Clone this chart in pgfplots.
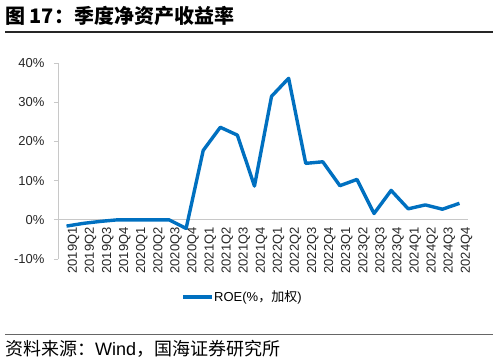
\documentclass[border=0pt]{standalone}
\usepackage{pgfplots}
\pgfplotsset{compat=1.18}
\usepackage{fontspec}
\setmainfont{Liberation Sans}
\newfontfamily\cjk{Noto Sans CJK SC}
\definecolor{roe}{RGB}{0,112,192}
\definecolor{axgray}{RGB}{200,200,200}
\begin{document}
\begin{tikzpicture}[x=1pt,y=1pt]
\path[use as bounding box] (0,0) rectangle (498,-362);
\node[anchor=west,inner sep=0] at (5,-16) {\fontsize{20}{22}\selectfont\cjk\bfseries 图 17：季度净资产收益率};
\draw[line width=1.3pt,black!85] (5,-32) -- (493,-32);
\draw[line width=1pt,black!60] (5,-334) -- (493,-334);
\node[anchor=west,inner sep=0] at (5,-349) {\fontsize{18}{20}\selectfont\cjk 资料来源：{\fontspec{Liberation Sans}Wind}，国海证券研究所};
\begin{axis}[
  at={(58pt,-259pt)}, anchor=south west,
  scale only axis, width=410pt, height=196pt,
  xmin=-0.5, xmax=23.5, ymin=-10, ymax=40,
  axis x line*=middle, axis y line*=left,
  axis line style={axgray, line width=0.8pt},
  ytick={-10,0,10,20,30,40},
  yticklabel={\pgfmathprintnumber{\tick}\%},
  /pgf/number format/assume math mode=true,
  yticklabel style={font=\fontsize{13}{15}\selectfont, text=black!85, xshift=-6pt},
  ytick style={axgray, line width=0.8pt},
  ytick align=outside, major tick length=4pt,
  xtick={0,...,23},
  xticklabels={2019Q1,2019Q2,2019Q3,2019Q4,2020Q1,2020Q2,2020Q3,2020Q4,2021Q1,2021Q2,2021Q3,2021Q4,2022Q1,2022Q2,2022Q3,2022Q4,2023Q1,2023Q2,2023Q3,2023Q4,2024Q1,2024Q2,2024Q3,2024Q4},
  xticklabel style={rotate=90, anchor=east, font=\fontsize{13}{15}\selectfont, text=black!85, yshift=-7pt},
  x tick style={draw=none},
  minor xtick={-0.5,0.5,...,23.5},
  minor x tick style={axgray, line width=0.8pt},
  xtick align=outside,
  minor tick length=6pt,
  clip=false,
]
\addplot[roe, line width=3.4pt, line join=round, mark=none] coordinates {
(0,-1.6) (1,-0.9) (2,-0.4) (3,0) (4,0) (5,0) (6,0) (7,-2.2)
(8,17.7) (9,23.6) (10,21.6) (11,8.6) (12,31.5) (13,36.1) (14,14.4) (15,14.8)
(16,8.7) (17,10.3) (18,1.6) (19,7.5) (20,2.8) (21,3.8) (22,2.7) (23,4.2)
};
\end{axis}
\draw[roe, line width=3.4pt] (183,-297) -- (212,-297);
\node[anchor=west,inner sep=0] at (214,-297) {\fontsize{13}{15}\selectfont ROE(\%{\cjk ，加权})};
\end{tikzpicture}
\end{document}
